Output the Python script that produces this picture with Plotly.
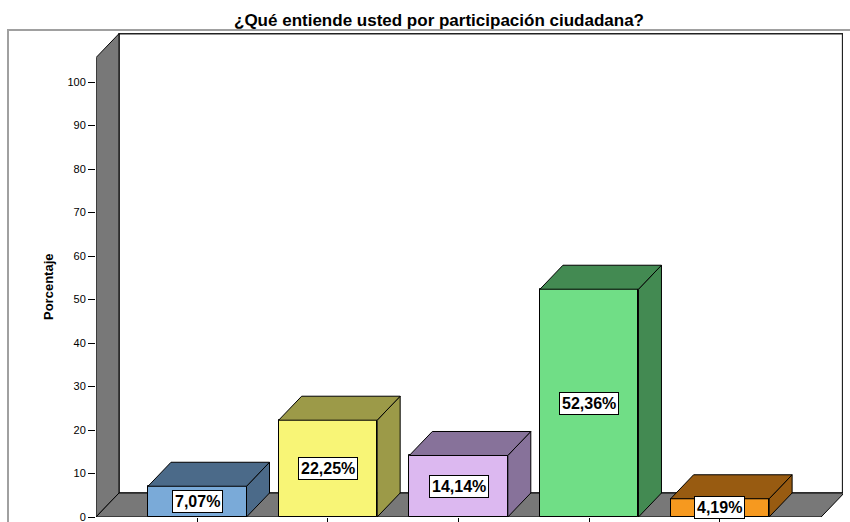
import plotly.graph_objects as go

# ---- data ----
categories = ["Categoría 1", "Categoría 2", "Categoría 3", "Categoría 4", "Categoría 5"]
values = [7.07, 22.25, 14.14, 52.36, 4.19]
y_ticks = [0, 10, 20, 30, 40, 50, 60, 70, 80, 90, 100]
title_text = "¿Qué entiende usted por participación ciudadana?"
y_title = "Porcentaje"

# ---- styles ----
front_colors = ["#7aaad8", "#f8f576", "#dcb8f0", "#70de86", "#f6991f"]
dark_colors = ["#4b6a89", "#9c9a48", "#87729a", "#438a52", "#985b11"]
wall_grey = "#787878"

W, H = 850, 522
L, R, T, B = 96, 7, 33, 5
plot_w = W - L - R
plot_h = H - T - B
px_per_cat = 130.65
px_per_unit = 4.35

x0 = -0.775
x_range = [x0, x0 + plot_w / px_per_cat]
y_range = [0, plot_h / px_per_unit]

dx = 23 / px_per_cat      # depth offset in category units
dy = 24 / px_per_unit     # depth offset in value units
bar_w = 0.754
wall_top = 105.6
floor_right = 4.775

xs = list(range(len(categories)))

fig = go.Figure()

# front faces
fig.add_trace(go.Bar(
    x=xs, y=values, width=bar_w,
    marker=dict(color=front_colors, line=dict(color="black", width=1)),
    hoverinfo="skip", showlegend=False,
))

# side and top faces
for i, v in enumerate(values):
    xl, xr = i - bar_w / 2, i + bar_w / 2
    fig.add_trace(go.Scatter(
        x=[xr, xr + dx, xr + dx, xr, xr],
        y=[0, dy, v + dy, v, 0],
        fill="toself", fillcolor=dark_colors[i], mode="lines",
        line=dict(color="black", width=1), hoverinfo="skip", showlegend=False,
    ))
    fig.add_trace(go.Scatter(
        x=[xl, xl + dx, xr + dx, xr, xl],
        y=[v, v + dy, v + dy, v, v],
        fill="toself", fillcolor=dark_colors[i], mode="lines",
        line=dict(color="black", width=1), hoverinfo="skip", showlegend=False,
    ))

shapes = []
xb_right = x_range[1] - 0.003
# back wall
shapes.append(dict(type="path", xref="x", yref="y", layer="below",
                   path=f"M {x0+dx},{dy} L {x0+dx},{wall_top+dy} L {xb_right},{wall_top+dy} L {xb_right},{dy} Z",
                   fillcolor="white", line=dict(color="#222", width=1.5)))
# left wall
shapes.append(dict(type="path", xref="x", yref="y", layer="below",
                   path=f"M {x0},0 L {x0},{wall_top} L {x0+dx},{wall_top+dy} L {x0+dx},{dy} Z",
                   fillcolor=wall_grey, line=dict(color="black", width=1)))
# floor
shapes.append(dict(type="path", xref="x", yref="y", layer="below",
                   path=f"M {x0},0 L {x0+dx},{dy} L {floor_right+dx},{dy} L {floor_right},0 Z",
                   fillcolor=wall_grey, line=dict(color="black", width=1)))
# outer frame
shapes.append(dict(type="rect", xref="paper", yref="paper", layer="below",
                   x0=(8 - L) / plot_w, x1=1.05, y0=-0.05, y1=(H - B - 30) / plot_h,
                   fillcolor="rgba(0,0,0,0)", line=dict(color="#a0a0a0", width=2)))

annotations = []
for i, v in enumerate(values):
    annotations.append(dict(
        x=i, y=v / 2, xref="x", yref="y", showarrow=False,
        text=f"{v:.2f}".replace(".", ",") + "%",
        font=dict(family="Liberation Sans, Arial", size=16, color="black", weight="bold"),
        bgcolor="white", bordercolor="black", borderwidth=1, borderpad=2,
    ))
annotations.append(dict(
    x=(48 - L) / plot_w, y=(H - B - 287) / plot_h, xref="paper", yref="paper",
    xanchor="center", yanchor="middle",
    text=y_title, textangle=-90, showarrow=False,
    font=dict(family="Liberation Sans, Arial", size=13, color="black", weight="bold"),
))

fig.update_layout(
    width=W, height=H,
    margin=dict(l=L, r=R, t=T, b=B, autoexpand=False),
    paper_bgcolor="white", plot_bgcolor="rgba(0,0,0,0)",
    title=dict(text=title_text, x=439 / W, xref="container", xanchor="center",
               y=1 - 20 / H, yref="container", yanchor="middle",
               font=dict(family="Liberation Sans, Arial", size=17, color="black", weight="bold")),
    shapes=shapes, annotations=annotations, bargap=0,
)
fig.update_xaxes(range=x_range, showgrid=False, zeroline=False, showline=False,
                 tickvals=xs, showticklabels=False, ticks="outside", ticklen=6,
                 tickcolor="black", automargin=False)
fig.update_yaxes(range=y_range, showgrid=False, zeroline=False, showline=False,
                 tickvals=y_ticks, ticks="outside", ticklen=7, tickcolor="black",
                 ticklabeloverflow="allow",
                 tickfont=dict(family="Liberation Sans, Arial", size=11, color="black"),
                 automargin=False)

fig.write_html("out.html", config={"displayModeBar": False},
               post_script="document.body.style.margin='0';document.body.style.padding='0';")
